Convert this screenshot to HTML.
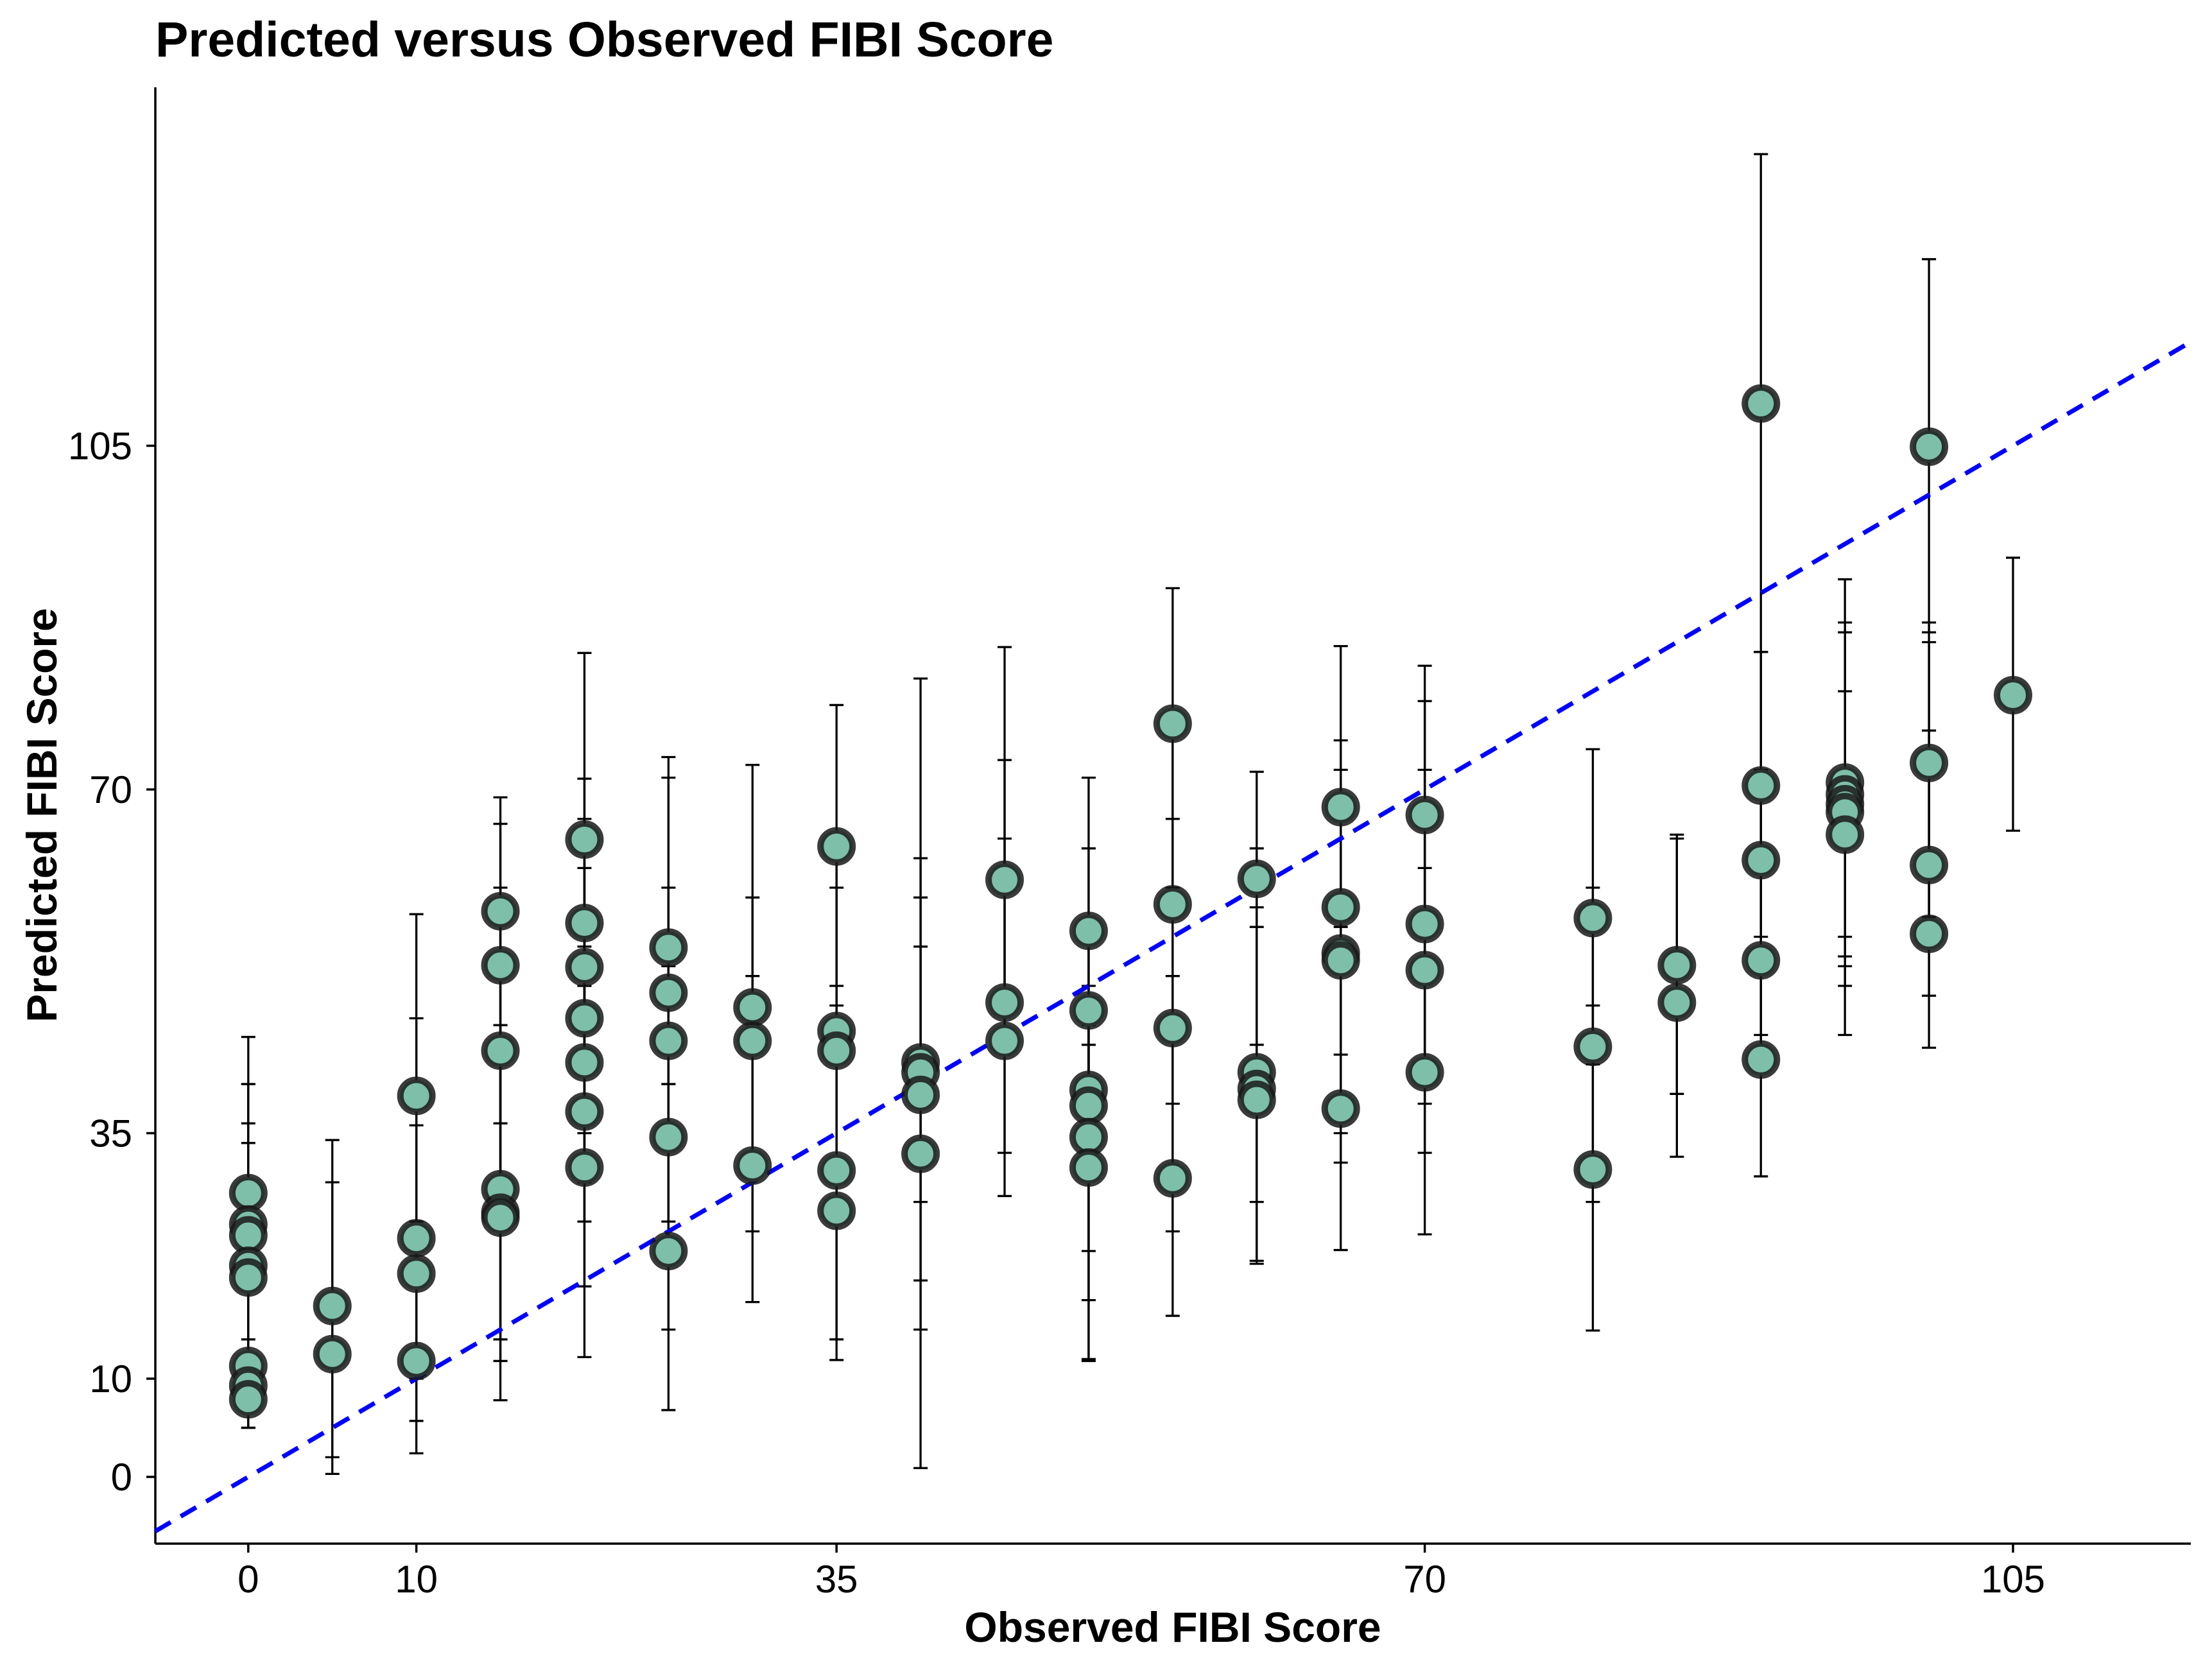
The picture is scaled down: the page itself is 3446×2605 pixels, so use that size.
<!DOCTYPE html>
<html><head><meta charset="utf-8"><style>
html,body{margin:0;padding:0;background:#fff}
svg{display:block;font-family:"Liberation Sans",Arial,sans-serif}
</style></head><body>
<svg id="chart" width="3446" height="2605" viewBox="0 0 3446 2605" xmlns="http://www.w3.org/2000/svg">
<rect width="3446" height="2605" fill="#fff"/>
<text x="242" y="88" font-size="77" font-weight="bold" fill="#000">Predicted versus Observed FIBI Score</text>
<g id="grid"></g>
<text x="1827" y="2558" font-size="66" font-weight="bold" text-anchor="middle">Observed FIBI Score</text>
<text transform="translate(88,1270) rotate(-90)" font-size="66" font-weight="bold" text-anchor="middle">Predicted FIBI Score</text>
</svg>
<script>
const obs = [0,0,0,0,0,0,0,0, 5,5, 10,10,10,10, 15,15,15,15,15,15, 20,20,20,20,20,20,20, 25,25,25,25,25, 30,30,30, 35,35,35,35,35, 40,40,40,40, 45,45,45, 50,50,50,50,50,50, 55,55,55,55, 60,60,60,60, 65,65,65,65,65, 70,70,70,70, 80,80,80, 85,85, 90,90,90,90,90, 95,95,95,95,95, 100,100,100,100, 105];
const pred = [28.9,25.7,24.6,21.5,20.3,11.3,9.3,7.9, 17.4,12.5, 38.8,24.3,20.7,11.8, 57.6,52.1,43.4,29.3,26.9,26.4, 64.9,56.4,51.9,46.7,42.2,37.2,31.5, 53.9,49.3,44.4,34.6,23.0, 47.8,44.4,31.7, 64.2,45.4,43.4,31.2,27.1, 42.2,41.2,38.9,32.9, 60.8,48.3,44.4, 55.6,47.5,39.4,37.8,34.6,31.5, 76.7,58.3,45.7,30.4, 60.9,41.2,39.5,38.4, 68.2,58.0,53.3,52.6,37.5, 67.4,56.3,51.6,41.2, 56.9,43.8,31.3, 52.1,48.3, 109.3,70.4,62.8,52.6,42.5, 70.7,69.5,68.5,67.7,65.4, 104.9,72.7,62.3,55.3, 79.6];
const lower = [14,12,10,8,7,5,5,5, 0.3,2, 24,10,5.7,2.4, 44,36,30,14,11.8,7.8, 50,42,35,30,26,19.4,12.2, 40,35,26,15,6.8, 33,25,17.8, 48,30,26,14,11.9, 28,20,15,0.9, 44,33,28.6, 40,33,23,18,12,11.8, 60,38,25,16.4, 44,28,22,21.7, 52,43,35,32,23.1, 52,38,33,24.7, 42,28,14.9, 39,32.6, 84,55,45,42,30.6, 55,53,52,50,45, 86,57,49,43.7, 65.8];
const upper = [44.8,40,40,36,34,26,25,24, 34.3,30, 57.3,46.7,35.8,26, 69.2,66.5,60,46,44,42, 83.9,71.1,67,62,57,54,50, 73.3,71.2,60,52,40, 72.5,59,51, 78.6,64,60,50,44, 81.3,63,59,54, 84.5,73,65, 71.2,64,57,50,46,44, 90.5,78,67,51, 71.8,64,58,56, 84.6,75,72,69,56, 82.6,79,72,62, 74.1,60,48, 65.4,65, 134.7,84,84,72,62, 91.4,87,86,80,72, 124,87,85,76, 93.6];
const xTicks = [0,10,35,70,105];
const yTicks = [0,10,35,70,105];

const NS='http://www.w3.org/2000/svg';
const g=document.getElementById('grid');
const X0=386.8, X105=3136, Y0=2301, Y105=694.5;
const sx=v=>X0+(X105-X0)*v/105;
const sy=v=>Y0+(Y105-Y0)*v/105;
const L=242,R=3413,T=136,B=2405;
function mk(tag,attrs,parent){const e=document.createElementNS(NS,tag);for(const k in attrs)e.setAttribute(k,attrs[k]);(parent||g).appendChild(e);return e;}

let ax=mk('line',{x1:L,y1:T,x2:L,y2:B,stroke:'#000','stroke-width':3.5});


ax=mk('line',{x1:L,y1:B,x2:R,y2:B,stroke:'#000','stroke-width':3.5});


xTicks.forEach(t=>{
  const tk=mk('line',{x1:sx(t),y1:B,x2:sx(t),y2:B+14,stroke:'#000','stroke-width':3.5});
  
  
  const tx=mk('text',{x:sx(t),y:B+76,'font-size':60,'text-anchor':'middle',fill:'#000'});
  tx.textContent=t;
  
  
});
yTicks.forEach(t=>{
  const tk=mk('line',{x1:L-14,y1:sy(t),x2:L,y2:sy(t),stroke:'#000','stroke-width':3.5});
  
  
  const tx=mk('text',{x:L-36,y:sy(t)+21,'font-size':60,'text-anchor':'end',fill:'#000'});
  tx.textContent=t;
  
  
});
obs.forEach((o,i)=>{
  const x=sx(o);
  const eb=mk('g',{stroke:'#000','stroke-width':3.3});
  
  
  mk('line',{x1:x,y1:sy(lower[i]),x2:x,y2:sy(upper[i])},eb);
  mk('line',{x1:x-11,y1:sy(lower[i]),x2:x+11,y2:sy(lower[i])},eb);
  mk('line',{x1:x-11,y1:sy(upper[i]),x2:x+11,y2:sy(upper[i])},eb);
});
const lv=-5.54, rv=115.6;
const ref=mk('line',{x1:sx(lv),y1:sy(lv),x2:sx(rv),y2:sy(rv),stroke:'#0000ff','stroke-width':7,'stroke-dasharray':'28,18'});


obs.forEach((o,i)=>{
  const c=mk('circle',{cx:sx(o),cy:sy(pred[i]),r:25,fill:'#7dbfa9',stroke:'rgba(25,25,25,0.85)','stroke-width':10});
  
  
});
</script>
</body></html>
